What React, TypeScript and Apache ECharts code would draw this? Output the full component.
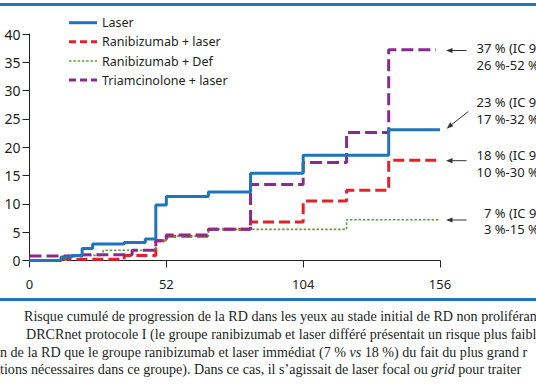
import React, { useEffect, useRef } from "react";
import * as echarts from "echarts";

// ---- Data (weeks, cumulative % risk) ----
const seriesNames = ["Laser", "Ranibizumab + laser", "Ranibizumab + Def", "Triamcinolone + laser"];

const laserX = [0, 12, 16, 20, 24, 36, 44, 48, 52, 68, 84, 104, 136.5, 156];
const laserY = [0, 0.6, 0.9, 2.1, 2.9, 3.2, 3.8, 9.8, 11.3, 12.1, 15.4, 18.6, 23.1, 23.1];

const ranLaserX = [0, 12, 36, 48, 52, 68, 84, 104, 120.5, 136.5, 156];
const ranLaserY = [0, 0.2, 0.9, 3.5, 4.3, 5.5, 6.8, 10.5, 12.4, 17.7, 17.7];

const ranDefX = [0, 14, 28, 48, 52, 68, 120.5, 155.5];
const ranDefY = [0, 0.9, 1.8, 3.5, 4.3, 5.5, 7.2, 7.2];

const triamX = [0, 20, 39, 48, 52, 68, 84, 104, 120.5, 136.5, 154.5];
const triamY = [0.8, 1.0, 1.8, 3.5, 4.5, 5.5, 13.4, 17.3, 22.6, 37.2, 37.2];

const xTicks = [0, 52, 104, 156];
const yMax = 40;
const yInterval = 5;

const annotLines = [
  ["37 % (IC 9", "26 %-52 %"],
  ["23 % (IC 9", "17 %-32 %"],
  ["18 % (IC 9", "10 %-30 %"],
  ["7 % (IC 9", "3 %-15 %"],
];

const captionLines = [
  "Risque cumulé de progression de la RD dans les yeux au stade initial de RD non proliféran",
  "DRCRnet protocole I (le groupe ranibizumab et laser différé présentait un risque plus faible",
  "n de la RD que le groupe ranibizumab et laser immédiat (7 % {i|vs} 18 %) du fait du plus grand r",
  "tions nécessaires dans ce groupe). Dans ce cas, il s’agissait de laser focal ou {i|grid} pour traiter",
];

const zip = (xs: number[], ys: number[]) => xs.map((x, i) => [x, ys[i]]);

export default function App() {
  const ref = useRef<HTMLDivElement>(null);
  useEffect(() => {
    if (!ref.current) return;
    const chart = echarts.init(ref.current, undefined, { renderer: "svg" });
    const sans = "Noto Sans";
    const txt = "#231f20";
    const blue = "#1f74ba";
    const red = "#e5202a";
    const green = "#6b9a3c";
    const purple = "#8b2a8e";
    const arrowColor = "#333333";

    const styles = [
      { color: blue, width: 3, dash: null as any, legendDash: null as any },
      { color: red, width: 3, dash: [11, 5], legendDash: [7, 4] },
      { color: green, width: 1.6, dash: [2.5, 1.8], legendDash: [2.5, 1.8] },
      { color: purple, width: 3, dash: [12, 5], legendDash: [7, 4] },
    ];

    const graphics: any[] = [
      { type: "rect", shape: { x: 0, y: 3, width: 536, height: 3 }, style: { fill: blue } },
      { type: "rect", shape: { x: 0, y: 298, width: 536, height: 3 }, style: { fill: blue } },
    ];

    // legend (drawn by hand so that the dashes show)
    const legendRows = [22.7, 41.7, 61, 80];
    seriesNames.forEach((name, i) => {
      const s = styles[i];
      const y = legendRows[i];
      graphics.push({
        type: "line", shape: { x1: 69, y1: y, x2: 97, y2: y },
        style: { stroke: s.color, lineWidth: s.width, lineDash: s.legendDash || undefined },
      });
      graphics.push({
        type: "text", x: 102, y,
        style: { text: name, fill: txt, font: `12.5px "${sans}"`, textVerticalAlign: "middle", textAlign: "left" },
      });
    });

    const annotPos = [
      { x: 476.5, y: 56.5 },
      { x: 476.5, y: 110.5 },
      { x: 476.5, y: 163.5 },
      { x: 484, y: 221 },
    ];
    annotLines.forEach((pair, i) => {
      const p = annotPos[i];
      graphics.push({
        type: "text", x: p.x, y: p.y,
        style: {
          text: pair.join("\n"), fill: txt, font: `13px "${sans}"`, lineHeight: 16.5,
          textVerticalAlign: "middle", textAlign: "left",
        },
      });
    });
    // arrows
    const hArrows = [50.5, 160.7, 220];
    hArrows.forEach((y) => {
      graphics.push({ type: "line", shape: { x1: 466.5, y1: y, x2: 450, y2: y }, style: { stroke: arrowColor, lineWidth: 1 } });
      graphics.push({ type: "polygon", shape: { points: [[446, y], [452.5, y - 2.6], [452.5, y + 2.6]] }, style: { fill: arrowColor } });
    });
    graphics.push({ type: "line", shape: { x1: 468.3, y1: 111.5, x2: 450.5, y2: 125.5 }, style: { stroke: arrowColor, lineWidth: 1 } });
    graphics.push({ type: "polygon", shape: { points: [[446.7, 128.8], [453.2, 126.3], [450.2, 122.3]] }, style: { fill: arrowColor } });

    const capX = [24, 26, 0, 0];
    const capY = [316, 334, 351.5, 369];
    captionLines.forEach((t, i) => {
      graphics.push({
        type: "text", x: capX[i], y: capY[i],
        style: {
          text: t, fill: txt, font: `14.1px "Liberation Serif"`, textVerticalAlign: "middle", textAlign: "left",
          rich: { i: { fontStyle: "italic", fontFamily: "Liberation Serif", fontSize: 14.1, fill: txt } },
        },
      });
    });

    const common = { type: "line", step: "end", symbol: "none", showSymbol: false };
    const mk = (i: number, xs: number[], ys: number[], z: number) => ({
      ...common,
      name: seriesNames[i],
      data: zip(xs, ys),
      z,
      lineStyle: { color: styles[i].color, width: styles[i].width, type: styles[i].dash || "solid" },
      itemStyle: { color: styles[i].color },
    });

    chart.setOption({
      animation: false,
      grid: { left: 29.5, right: 96, top: 34, bottom: 125.5 },
      xAxis: {
        type: "value", min: 0, max: 156, interval: 52,
        axisLine: { show: true, onZero: false, lineStyle: { color: "#222", width: 1 } },
        axisTick: { show: true, length: 7, lineStyle: { color: "#222" } },
        axisLabel: {
          margin: 17, fontFamily: sans, fontSize: 13, color: txt,
          formatter: (v: number) => (xTicks.includes(v) ? String(v) : ""),
        },
        splitLine: { show: false },
      },
      yAxis: {
        type: "value", min: 0, max: yMax, interval: yInterval,
        axisLine: { show: true, lineStyle: { color: "#222", width: 1 } },
        axisTick: { show: true, length: 7, lineStyle: { color: "#222" } },
        axisLabel: { margin: 9, fontFamily: sans, fontSize: 14, color: txt },
        splitLine: { show: false },
      },
      series: [
        mk(1, ranLaserX, ranLaserY, 3),
        mk(2, ranDefX, ranDefY, 4),
        mk(3, triamX, triamY, 5),
        mk(0, laserX, laserY, 6),
      ],
      graphic: graphics,
    });
    return () => chart.dispose();
  }, []);
  return (
    <div
      ref={ref}
      style={{ position: "absolute", left: 0, top: 0, width: 536, height: 386, background: "#fff" }}
    />
  );
}
